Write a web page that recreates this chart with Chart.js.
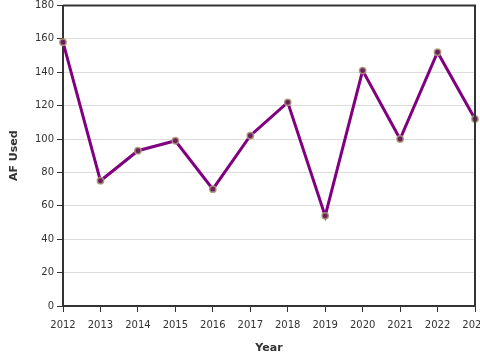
<!DOCTYPE html>
<html>
<head>
<meta charset="utf-8">
<script src="https://cdn.jsdelivr.net/npm/chart.js@4/dist/chart.umd.min.js"></script>
<style>
html,body{margin:0;padding:0;overflow:hidden;background:#fff;width:480px;height:360px;}
canvas{display:block;}
</style>
</head>
<body>
<canvas id="c" width="500" height="360" style="width:500px;height:360px"></canvas>
<script>
const years = ['2012','2013','2014','2015','2016','2017','2018','2019','2020','2021','2022','2023'];
const afUsed = [158, 75, 93, 99, 70, 102, 122, 54, 141, 100, 152, 112];
const yTitle = 'AF Used';
const xTitle = 'Year';

const frame = {
  id: 'frame',
  afterDraw(chart) {
    const a = chart.chartArea, ctx = chart.ctx;
    ctx.save();
    ctx.strokeStyle = '#333';
    ctx.lineWidth = 2;
    ctx.beginPath();
    ctx.moveTo(a.left, a.top);
    ctx.lineTo(a.right, a.top);
    ctx.lineTo(a.right, a.bottom);
    ctx.stroke();
    ctx.restore();
  }
};

Chart.defaults.font.family = '"DejaVu Sans", sans-serif';
Chart.defaults.color = '#333';

new Chart(document.getElementById('c'), {
  type: 'line',
  data: {
    labels: years,
    datasets: [{
      data: afUsed,
      borderColor: '#800080',
      borderWidth: 3,
      pointRadius: 3.2,
      pointBackgroundColor: '#6b1f5f',
      pointBorderColor: 'rgba(175,155,120,0.85)',
      pointBorderWidth: 1.5,
      tension: 0
    }]
  },
  options: {
    responsive: false,
    animation: false,
    layout: { padding: { left: 0, top: 5, right: 25, bottom: 0 } },
    plugins: { legend: { display: false }, tooltip: { enabled: false } },
    scales: {
      x: {
        offset: false,
        grid: { drawOnChartArea: false, tickColor: '#333', tickLength: 6, lineWidth: 1 },
        border: { color: '#333', width: 2 },
        ticks: { font: { size: 10 }, maxRotation: 0, autoSkip: false, padding: 7 },
        title: { display: true, text: xTitle, font: { size: 11, weight: 'bold' }, padding: { top: 0, bottom: 5 } },
        afterFit(s) { s.height = 54; s.paddingLeft = 0; s.paddingRight = 0; }
      },
      y: {
        min: 0, max: 180,
        ticks: { stepSize: 20, font: { size: 10 }, padding: 3 },
        grid: { color: '#dcdcdc', tickColor: '#333', tickLength: 6, lineWidth: 1 },
        border: { color: '#333', width: 2 },
        title: { display: true, text: yTitle, font: { size: 11, weight: 'bold' }, padding: { top: 8, bottom: 0 } },
        afterFit(s) { s.width = 63; s.paddingTop = 0; s.paddingBottom = 0; }
      }
    }
  },
  plugins: [frame]
});
</script>
</body>
</html>
